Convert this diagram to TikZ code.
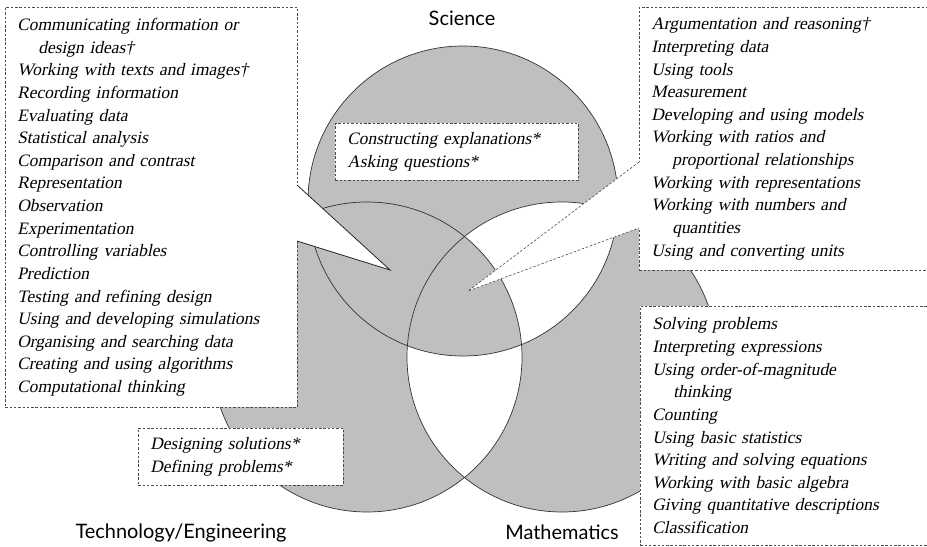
\documentclass[tikz,border=0pt]{standalone}
\usepackage{fontspec}
\setmainfont{Liberation Serif}
\newfontfamily\listfont{Liberation Serif}[FakeSlant=0.21]
\newfontfamily\vennlabelfont{Lato}
\usepackage{tikz}
\definecolor{venngrey}{gray}{0.75}
\tikzset{every picture/.append style={x=1bp, y=-1bp}}
\tikzset{
    listbox/.style={draw=black!70, fill=white, dash pattern=on 2.5bp off 1.8bp,
        line width=0.6bp, anchor=north west, align=left, inner xsep=12bp,
        inner ysep=0bp, text width=#1,
        font=\listfont\fontsize{17.5}{22.7}\selectfont},
    setlabel/.style={anchor=base, inner sep=0bp,
        font=\vennlabelfont\fontsize{20}{24}\selectfont},
    venn/.style={draw=black!80, line width=0.7bp}
}
\newcommand{\ind}{\hspace*{21bp}}
\def\vennr{155bp}

\begin{document}
\begin{tikzpicture}
  \useasboundingbox (0,0) rectangle (927,547);
  \clip (0,0) rectangle (927,547);
  \coordinate (sci) at (463,201);
  \coordinate (tech) at (367,357);
  \coordinate (math) at (562,357);

  % shading of the three sets
  \fill[venngrey] (sci) circle (\vennr) (tech) circle (\vennr) (math) circle (\vennr);
  \begin{scope}
    \clip (math) circle (\vennr);
    \fill[white] (sci) circle (\vennr);
    \fill[white] (tech) circle (\vennr);
  \end{scope}
  \begin{scope}
    \clip (math) circle (\vennr);
    \clip (sci) circle (\vennr);
    \fill[venngrey] (tech) circle (\vennr);
  \end{scope}
  \draw[venn] (sci) circle (\vennr);
  \draw[venn] (tech) circle (\vennr);
  \draw[venn] (math) circle (\vennr);

  % boxes of practices
  \node (left) [listbox=268bp, minimum height=400bp] at (5,7) {
    Communicating information or\\ \ind design ideas†\\
    Working with texts and images†\\ Recording information\\
    Evaluating data\\ Statistical analysis\\ Comparison and contrast\\
    Representation\\ Observation\\ Experimentation\\ Controlling variables\\
    Prediction\\ Testing and refining design\\
    Using and developing simulations\\ Organising and searching data\\
    Creating and using algorithms\\ Computational thinking};
  \node (right) [listbox=290bp, minimum height=263bp] at (639,7) {
    Argumentation and reasoning†\\ Interpreting data\\ Using tools\\
    Measurement\\ Developing and using models\\ Working with ratios and\\
    \ind proportional relationships\\ Working with representations\\
    Working with numbers and\\ \ind quantities\\ Using and converting units};
  \node (maths) [listbox=290bp, minimum height=239bp] at (640,306) {
    Solving problems\\ Interpreting expressions\\ Using order-of-magnitude\\
    \ind thinking\\ Counting\\ Using basic statistics\\
    Writing and solving equations\\ Working with basic algebra\\
    Giving quantitative descriptions\\ Classification};
  \node (top) [listbox=219bp, minimum height=57bp] at (335,123) {
    Constructing explanations*\\ Asking questions*};
  \node (bottom) [listbox=181bp, minimum height=57bp] at (138,428) {
    Designing solutions*\\ Defining problems*};

  % pointers into the centre
  \coordinate (la) at (297,185);
  \coordinate (lb) at (297,241);
  \coordinate (ltip) at (390,270);
  \coordinate (ra) at (639,162);
  \coordinate (rb) at (639,228);
  \coordinate (rtip) at (468,291);
  \fill[white] (la) -- (ltip) -- (lb) -- cycle;
  \fill[white] (ra) -- (rtip) -- (rb) -- cycle;
  \draw[white, line width=1.5bp] (la) -- (lb);
  \draw[white, line width=1.5bp] (ra) -- (rb);
  \draw[black!85, line width=0.8bp] (la) -- (ltip) -- (lb);
  \draw[black!70, line width=0.6bp, dash pattern=on 2.5bp off 1.8bp]
    (ra) -- (rtip) -- (rb);

  % set names
  \node (science) [setlabel] at (462,26) {Science};
  \node (techeng) [setlabel] at (181,538) {Technology/Engineering};
  \node (mathematics) [setlabel] at (562,539) {Mathematics};
\end{tikzpicture}
\end{document}
